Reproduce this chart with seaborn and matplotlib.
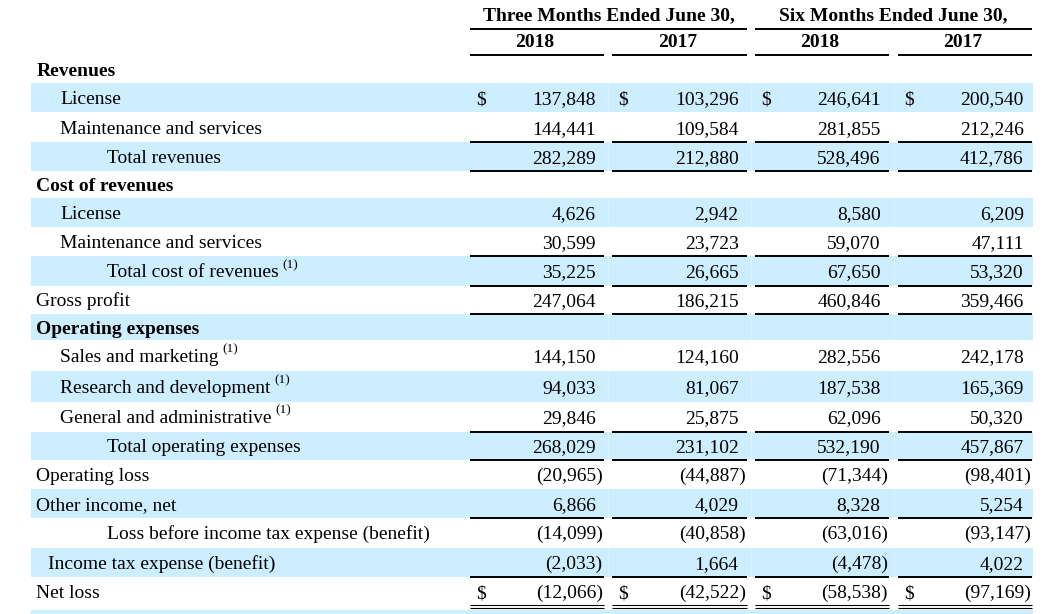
import matplotlib
matplotlib.use("Agg")
import matplotlib.pyplot as plt
import seaborn as sns

# ---------------- data ----------------
row_labels = [
    "Revenues", "License", "Maintenance and services", "Total revenues",
    "Cost of revenues", "License", "Maintenance and services", "Total cost of revenues",
    "Gross profit", "Operating expenses", "Sales and marketing",
    "Research and development", "General and administrative",
    "Total operating expenses", "Operating loss", "Other income, net",
    "Loss before income tax expense (benefit)", "Income tax expense (benefit)",
    "Net loss",
]
group_headers = ["Three Months Ended June 30,", "Six Months Ended June 30,"]
year_labels = ["2018", "2017", "2018", "2017"]

three_2018 = [None, 137848, 144441, 282289, None, 4626, 30599, 35225, 247064, None,
              144150, 94033, 29846, 268029, -20965, 6866, -14099, -2033, -12066]
three_2017 = [None, 103296, 109584, 212880, None, 2942, 23723, 26665, 186215, None,
              124160, 81067, 25875, 231102, -44887, 4029, -40858, 1664, -42522]
six_2018 = [None, 246641, 281855, 528496, None, 8580, 59070, 67650, 460846, None,
            282556, 187538, 62096, 532190, -71344, 8328, -63016, -4478, -58538]
six_2017 = [None, 200540, 212246, 412786, None, 6209, 47111, 53320, 359466, None,
            242178, 165369, 50320, 457867, -98401, 5254, -93147, 4022, -97169]
footnote_rows = [7, 10, 11, 12]
footnote_text = "(1)"
dollar_rows = [1, 18]

# ---------------- styles / layout ----------------
indent_level = [0, 1, 1, 2, 0, 1, 1, 2, 0, 0, 1, 1, 1, 2, 0, 0, 2, 0.5, 0]
bold_rows = [0, 4, 9]
single_rule_rows = [2, 3, 6, 7, 8, 12, 13, 15, 17]
double_rule_rows = [18]
row_bounds = [55.0, 83.3, 112.5, 141.7, 171.0, 197.7, 227.0, 256.3, 285.5, 314.3,
              340.0, 371.2, 401.5, 431.7, 460.0, 489.0, 518.0, 547.5, 577.0, 606.0]

sns.set_theme(style="white")
plt.rcParams["font.family"] = ["Liberation Serif", "DejaVu Serif"]

W, H = 1056, 614
fig = plt.figure(figsize=(W / 100, H / 100), dpi=100)
ax = fig.add_axes([0, 0, 1, 1])
ax.set_xlim(0, W)
ax.set_ylim(H, 0)
ax.axis("off")

FS = 14.0
BAND = "#cceeff"
INK = "#000000"
col_start = [470, 612, 755, 898]
col_end = [604, 747, 889, 1032]
band_x0, band_x1 = 30.7, 1033
label_x = {0: 36.5, 0.5: 47.5, 1: 60, 2: 107}

# banded rows
for i in range(len(row_labels)):
    if i % 2 == 1:
        ax.axhspan(row_bounds[i], row_bounds[i + 1],
                   xmin=band_x0 / W, xmax=band_x1 / W, color=BAND, lw=0, zorder=0)
# partial band at bottom
ax.axhspan(609.8, 640, xmin=band_x0 / W, xmax=band_x1 / W, color=BAND, lw=0, zorder=0)
# faint column gaps in bands
for gx in [608.3, 751.0, 893.5]:
    for i in list(range(1, len(row_labels), 2)):
        ax.plot([gx, gx], [row_bounds[i], row_bounds[i + 1]], color="white",
                lw=0.8, alpha=0.3, zorder=0.5)

# headers
ax.text((col_start[0] + col_end[1]) / 2, 20.5, group_headers[0], ha="center",
        va="baseline", fontsize=FS, fontweight="bold", color=INK)
ax.text((col_start[2] + col_end[3]) / 2, 20.5, group_headers[1], ha="center",
        va="baseline", fontsize=FS, fontweight="bold", color=INK)
ax.plot([col_start[0], col_end[1]], [29.3, 29.3], color=INK, lw=1.4, solid_capstyle="butt")
ax.plot([col_start[2], col_end[3]], [29.3, 29.3], color=INK, lw=1.4, solid_capstyle="butt")
for c in range(4):
    ax.text((col_start[c] + col_end[c]) / 2 - 2, 46.7, year_labels[c], ha="center",
            va="baseline", fontsize=FS, fontweight="bold", color=INK)
    ax.plot([col_start[c], col_end[c]], [55.0, 55.0], color=INK, lw=1.4,
            solid_capstyle="butt")

# body
columns = [three_2018, three_2017, six_2018, six_2017]
renderer = fig.canvas.get_renderer()
for i, lab in enumerate(row_labels):
    yc = (row_bounds[i] + row_bounds[i + 1]) / 2
    yb = yc + 6.5
    t = ax.text(label_x[indent_level[i]], yb, lab, ha="left", va="baseline",
                fontsize=FS, fontweight="bold" if i in bold_rows else "normal",
                color=INK)
    if i in footnote_rows:
        bb = t.get_window_extent(renderer=renderer)
        ax.text(bb.x1 + 4.0, yb - 9.5, footnote_text, ha="left", va="baseline",
                fontsize=9.5, color=INK)
    for c in range(4):
        v = columns[c][i]
        if v is None:
            continue
        if v < 0:
            ax.text(col_end[c] - 1.3, yb, f"({-v:,})", ha="right", va="baseline",
                    fontsize=FS, color=INK)
        else:
            ax.text(col_end[c] - 8.3, yb, f"{v:,}", ha="right", va="baseline",
                    fontsize=FS, color=INK)
        if i in dollar_rows:
            ax.text(col_start[c] + 6, yb, "$", ha="left", va="baseline",
                    fontsize=FS, color=INK)
    yl = row_bounds[i + 1]
    if i in single_rule_rows:
        for c in range(4):
            ax.plot([col_start[c], col_end[c]], [yl, yl], color=INK, lw=1.4,
                    solid_capstyle="butt")
    if i in double_rule_rows:
        for c in range(4):
            for dy in (-1.3, 1.7):
                ax.plot([col_start[c], col_end[c]], [yl + dy, yl + dy], color=INK,
                        lw=0.8, solid_capstyle="butt")

fig.savefig("out.png", dpi=100)
